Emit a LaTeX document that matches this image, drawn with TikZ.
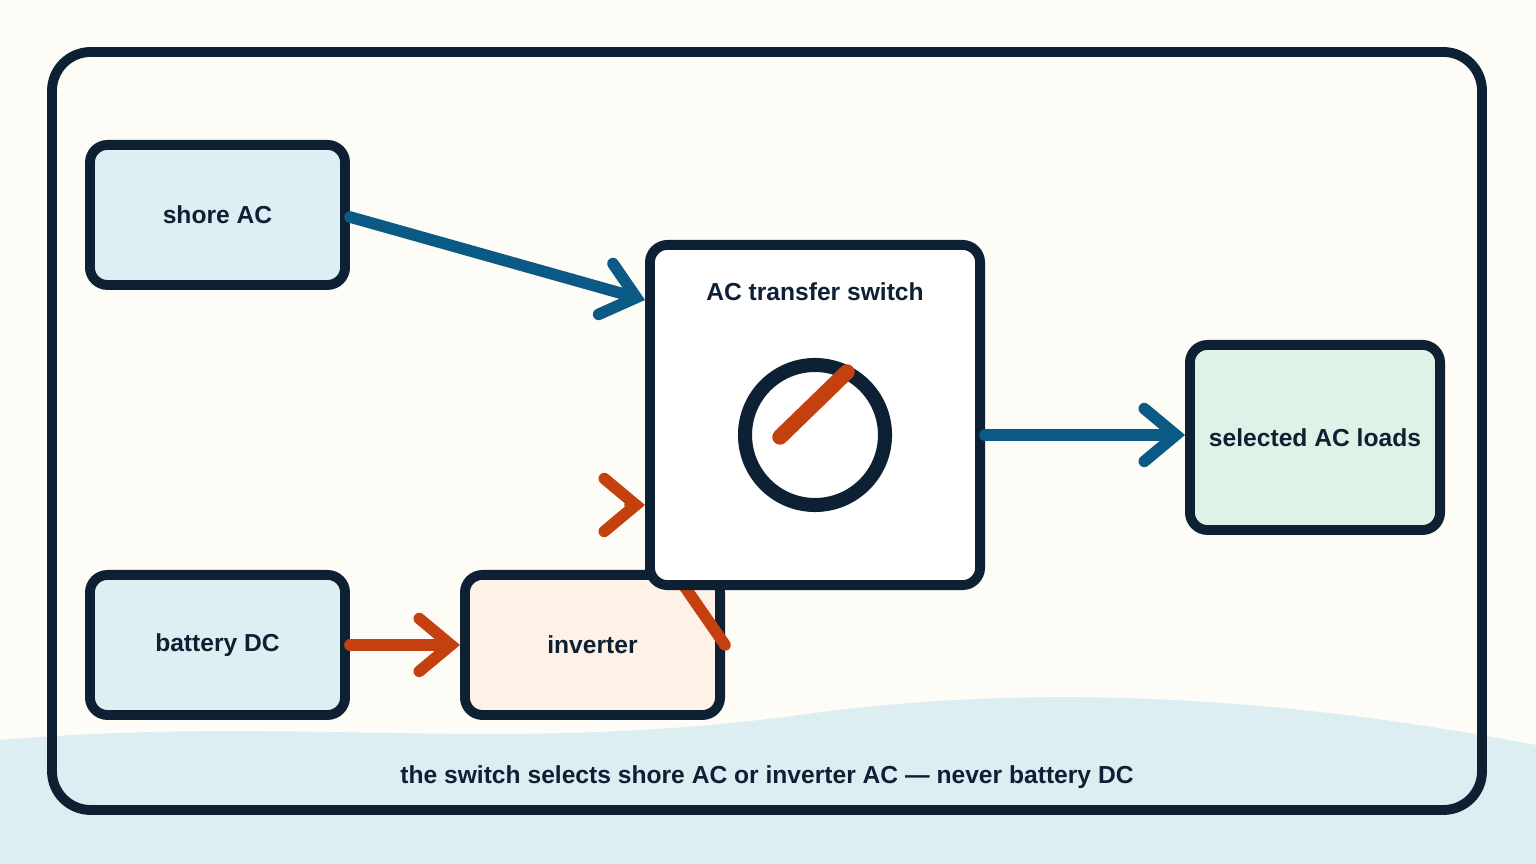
\documentclass[tikz,border=0pt]{standalone}
\usepackage{fontspec}
\setmainfont{Liberation Sans}
\usetikzlibrary{arrows.meta}
\definecolor{bg}{HTML}{FDFCF6}
\definecolor{wave}{HTML}{DCEEF2}
\definecolor{navy}{HTML}{0E2134}
\definecolor{blu}{HTML}{0A5A85}
\definecolor{org}{HTML}{C4410F}
\definecolor{boxb}{HTML}{DDEFF3}
\definecolor{boxo}{HTML}{FEF2E8}
\definecolor{boxg}{HTML}{DDF3E8}
\begin{document}
\begin{tikzpicture}[x=0.01cm,y=-0.01cm,
  lbl/.style={font=\fontsize{7}{8}\selectfont\bfseries,text=navy},
  box/.style={draw=navy,line width=2.8pt,rounded corners=5pt,lbl,anchor=north west,inner sep=0pt},
  con/.style={line width=3.3pt,line cap=round,-{Straight Barb[length=9pt,width=15pt,line cap=round]}}]
\fill[bg] (0,0) rectangle (1536,864);
\fill[wave] (0,740) .. controls (300,715) and (500,755) .. (800,715) .. controls (1050,680) and (1300,700) .. (1536,745) -- (1536,864) -- (0,864) -- cycle;
\draw[navy,line width=2.8pt,rounded corners=11pt] (52,52) rectangle (1482,810);
\node[box,fill=boxb,minimum width=2.55cm,minimum height=1.4cm] (shore) at (85,140) {shore AC};
\node[box,fill=boxb,minimum width=2.55cm,minimum height=1.4cm] (bat) at (85,570) {battery DC};
\node[box,fill=boxo,minimum width=2.55cm,minimum height=1.4cm] (inv) at (460,570) {inverter};
\draw[org,line width=3.3pt,line cap=round] (inv.east) -- (680,580);
\node[box,fill=white,minimum width=3.3cm,minimum height=3.4cm] (sw) at (645,240) {};
\node[lbl] (swt) at (815,292) {AC transfer switch};
\node[box,fill=boxg,minimum width=2.5cm,minimum height=1.85cm] (loads) at (1185,340) {selected AC loads};
\draw[navy,line width=4pt] (815,435) circle (70);
\draw[org,line width=4.4pt,line cap=round] (780,437) -- (847,372);
\coordinate (a1) at (645,300);
\coordinate (a2) at (645,505);
\draw[con,blu] (shore.east|-0,217) -- (a1);
\draw[con,blu] (sw.east|-0,435) -- (loads.west|-0,435);
\draw[con,org] (bat.east) -- (inv.west);
\draw[con,org] (635,505) -- (a2);
\node[lbl] (cap) at (767,777) {the switch selects shore AC or inverter AC — never battery DC};
\end{tikzpicture}
\end{document}
